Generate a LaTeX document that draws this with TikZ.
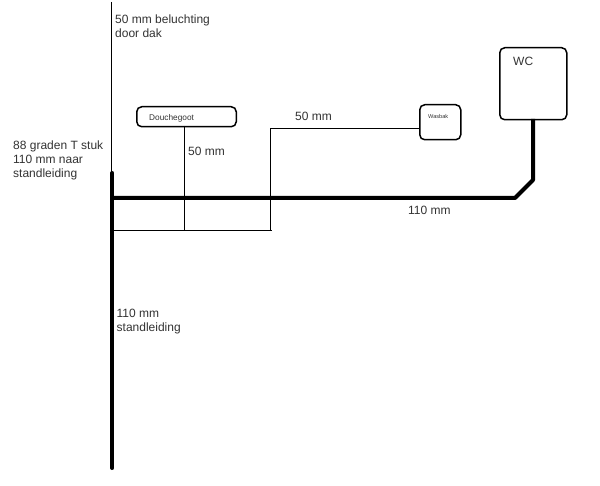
\documentclass[tikz,border=0pt]{standalone}
\usepackage{fontspec}
\setmainfont{Liberation Sans}
\tikzset{
  x=1pt,y=-1pt,
  thinpipe/.style={draw=black,line width=1.5pt},
  thickpipe/.style={draw=black,line width=4pt,line join=bevel},
  fixture/.style={draw=black,line width=1.5pt,rounded corners=5pt,inner sep=0pt,anchor=north west},
  lbl/.style={inner sep=0pt,anchor=north west,align=left,text=black!80,font=\fontsize{12}{14}\selectfont},
  small/.style={inner sep=0pt,anchor=base west,text=black!80}
}
\begin{document}
\begin{tikzpicture}
\useasboundingbox (0,0) rectangle (600,486);
\fill[white] (0,0) rectangle (600,486);
% fixtures
\node[fixture,minimum width=99.5pt,minimum height=20pt] (douche) at (136,106) {};
\node[fixture,minimum width=41pt,minimum height=35pt] (wasbak) at (419,104) {};
\node[fixture,minimum width=67pt,minimum height=72pt] (wc) at (499,47) {};
% junction coordinates
\coordinate (roof) at (111.7,2);
\coordinate (tee) at (111.7,173);
\coordinate (foot) at (112.3,468);
\coordinate (teeT) at (112.3,173);
\coordinate (mainL) at (112,198);
\coordinate (mainR) at (515,198);
\coordinate (bend) at (533,180);
\coordinate (wcout) at (533,119);
\coordinate (lowL) at (112,230.5);
\coordinate (lowD) at (184.5,230.5);
\coordinate (lowR) at (272,230.5);
\coordinate (lowW) at (270.5,230.5);
\coordinate (riseW) at (270.5,128.5);
\coordinate (wasin) at (419,128.5);
\coordinate (dout) at (184.5,126);
% pipes
\draw[thinpipe] (roof) -- (tee);
\draw[thinpipe] (lowL) -- (lowR);
\draw[thinpipe] (dout) -- (lowD);
\draw[thinpipe] (wasin) -- (riseW) -- (lowW);
\draw[thickpipe,line cap=round] (teeT) -- (foot);
\draw[thickpipe] (mainL) -- (mainR) -- (bend) -- (wcout);
% labels
\node[lbl] (t1) at (115,14.5) {50 mm beluchting\\door dak};
\node[lbl] (t2) at (13,141) {88 graden T stuk\\110 mm naar\\standleiding};
\node[lbl] (t3) at (188,147) {50 mm};
\node[lbl] (t4) at (295,111.5) {50 mm};
\node[lbl] (t5) at (408,205.5) {110 mm};
\node[lbl] (t6) at (116.5,308.5) {110 mm\\standleiding};
\node[lbl] (t7) at (513,57) {WC};
\node[small,font=\fontsize{8.3}{10}\selectfont] (t8) at (149,121) {Douchegoot};
\node[small,font=\fontsize{5.6}{7}\selectfont] (t9) at (428,119) {Wasbak};
\end{tikzpicture}
\end{document}
